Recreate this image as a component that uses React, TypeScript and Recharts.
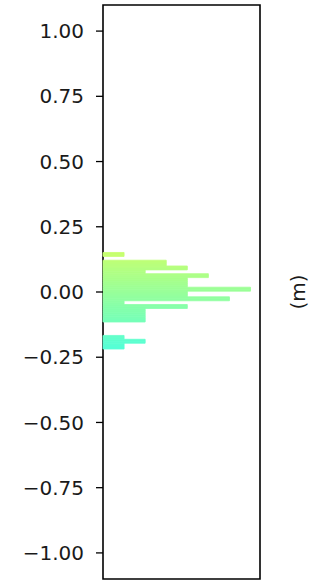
import React from 'react';
import { BarChart, Bar, XAxis, YAxis, Cell, ReferenceArea } from 'recharts';

// histogram of values, 50 equal bins between the data min and max
const binMin = -0.2182;
const binMax = 0.1515;
// counts per bin, from the top bin (highest value) down to the bottom one
const counts = [
  1, 1, 0, 0, 3, 3, 3, 4, 4, 2,
  2, 5, 5, 4, 4, 4, 4, 4, 7, 7,
  4, 4, 4, 6, 6, 1, 1, 4, 4, 2,
  2, 2, 2, 2, 2, 2, 0, 0, 0, 0,
  0, 0, 0, 1, 1, 2, 2, 1, 1, 1,
];
const yTicks = [-1, -0.75, -0.5, -0.25, 0, 0.25, 0.5, 0.75, 1];

const FONT = '"DejaVu Sans", sans-serif';

const binWidth = (binMax - binMin) / counts.length;
const data = counts.map((count, i) => ({
  y: binMax - (i + 0.5) * binWidth,
  count,
}));

// colour ramp: yellow-green at the top, aquamarine at the bottom
const topColor = [200, 255, 110];
const bottomColor = [85, 255, 215];
const colorFor = (y: number) => {
  const t = Math.min(1, Math.max(0, (binMax - y) / (binMax - binMin)));
  const c = topColor.map((v, k) => Math.round(v + (bottomColor[k] - v) * t));
  return `rgb(${c[0]},${c[1]},${c[2]})`;
};

const fmt = (v: number) => (v < 0 ? '\u2212' + Math.abs(v).toFixed(2) : v.toFixed(2));

export default function App() {
  return (
    <div style={{ position: 'absolute', left: 0, top: 0 }}>
      <BarChart
        width={322}
        height={584}
        layout="vertical"
        data={data}
        barCategoryGap={0}
        margin={{ top: 5, right: 0, bottom: 5, left: 0 }}
      >
        <XAxis type="number" dataKey="count" domain={[0, 7.45]} hide />
        <YAxis
          type="number"
          dataKey="y"
          domain={[-1.1, 1.1]}
          ticks={yTicks}
          reversed
          allowDataOverflow
          width={103}
          tickFormatter={fmt}
          axisLine={false}
          tickLine={{ stroke: '#000', strokeWidth: 1.3 }}
          tickSize={7}
          tickMargin={12}
          tick={{ fill: '#1a1a1a', fontSize: 20, fontFamily: FONT }}
        />
        <YAxis
          yAxisId="r"
          orientation="right"
          type="number"
          domain={[-1.1, 1.1]}
          reversed
          width={62}
          axisLine={false}
          tickLine={false}
          tick={false}
          label={{
            value: '(m)',
            angle: -90,
            position: 'center',
            dx: 7,
            fill: '#1a1a1a',
            fontSize: 20,
            fontFamily: FONT,
          }}
        />
        <Bar dataKey="count" isAnimationActive={false}>
          {data.map((d, i) => (
            <Cell key={i} fill={colorFor(d.y)} stroke={colorFor(d.y)} strokeWidth={0.8} />
          ))}
        </Bar>
        <ReferenceArea
          x1={0}
          x2={7.45}
          y1={-1.1}
          y2={1.1}
          fill="none"
          stroke="#000"
          strokeWidth={1.6}
          ifOverflow="visible"
        />
      </BarChart>
    </div>
  );
}
